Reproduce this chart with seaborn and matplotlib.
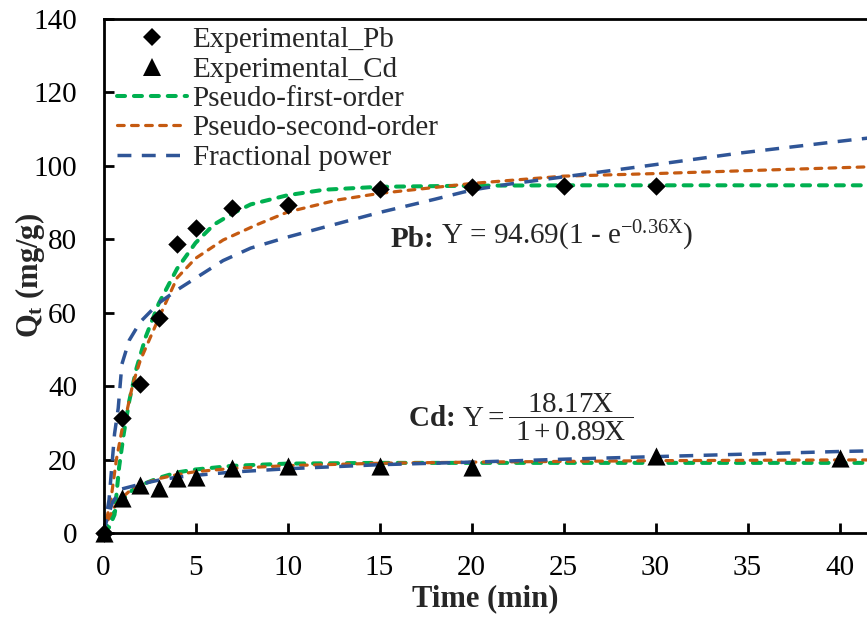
import matplotlib
matplotlib.use("Agg")
import matplotlib.pyplot as plt
from matplotlib.lines import Line2D
import seaborn as sns
import pandas as pd

# ---------------- data ----------------
pb_t = [0, 1, 2, 3, 4, 5, 7, 10, 15, 20, 25, 30]
pb_q = [0, 31.3, 40.7, 58.5, 78.7, 83.0, 88.5, 89.4, 93.6, 94.2, 94.4, 94.5]

cd_t = [0, 1, 2, 3, 4, 5, 7, 10, 15, 20, 30, 40]
cd_q = [0, 9.5, 13.0, 12.3, 15.0, 15.3, 17.8, 18.2, 18.2, 18.0, 21.0, 20.3]

# model curves, Pb
pfo_pb_t = [0, 0.3, 0.6, 0.85, 1.1, 1.4, 1.8, 2.3, 3, 4, 5, 6, 7, 8, 10, 12, 15, 20, 25, 30, 42]
pfo_pb_q = [0, 1.5, 5, 18, 27, 36, 45, 53.5, 62.5, 72, 79, 84, 87, 89.5, 92, 93.5, 94.3, 94.6, 94.7, 94.7, 94.7]
pso_pb_t = [0, 0.4, 0.7, 1, 1.2, 1.6, 2, 3, 4, 5, 6.5, 8.3, 10, 12.7, 15, 20, 25, 30, 35, 42]
pso_pb_q = [0, 9, 20, 28, 31.5, 40.7, 47, 58.5, 69.5, 74.8, 79.8, 83.9, 87.4, 90.7, 92.5, 95.2, 97.2, 97.9, 98.7, 99.8]
fp_pb_t = [0, 0.3, 0.45, 0.6, 0.8, 1, 1.4, 2, 3, 4, 5, 6.5, 8, 10, 12, 15, 18, 20, 22, 25, 29.2, 34.6, 40.7, 42]
fp_pb_q = [0, 9, 18, 27, 34, 46, 52.5, 57.5, 62.6, 66.2, 69.4, 74.2, 77.6, 80.6, 83.3, 87.3, 90.9, 93.4, 95.0, 97.0, 99.8, 103.5, 107.1, 107.8]

# model curves, Cd
pfo_cd_t = [0, 0.5, 1, 1.5, 2, 3, 4, 5, 7, 10, 15, 20, 42]
pfo_cd_q = [0, 5, 8.8, 11.4, 13, 15, 16.5, 17.3, 18.3, 18.9, 19.1, 19.1, 19.1]
pso_cd_t = [0, 0.3, 0.6, 1, 1.5, 2, 3, 4, 5, 7, 10, 15, 20, 25, 30, 35, 40, 42]
pso_cd_q = [0, 4.3, 7.1, 9.6, 11.8, 13.1, 14.8, 15.9, 16.7, 17.6, 18.35, 19.0, 19.3, 19.5, 19.7, 19.8, 19.9, 19.9]
fp_cd_t = [0, 0.2, 0.5, 1, 2, 3, 4, 5, 7, 10, 15, 20, 25, 30, 35, 40, 42]
fp_cd_q = [0, 4, 8.5, 12, 13.3, 14.4, 15.2, 15.7, 16.6, 17.5, 18.6, 19.3, 20.1, 20.8, 21.5, 22.2, 22.4]

x_ticks = [0, 5, 10, 15, 20, 25, 30, 35, 40]
y_ticks = [0, 20, 40, 60, 80, 100, 120, 140]
legend_labels = ["Experimental_Pb", "Experimental_Cd", "Pseudo-first-order",
                 "Pseudo-second-order", "Fractional power"]

# ---------------- style ----------------
sns.set_theme(style="ticks")
plt.rcParams["font.family"] = ["Liberation Serif", "DejaVu Serif"]
plt.rcParams["mathtext.fontset"] = "custom"
plt.rcParams["mathtext.rm"] = "Liberation Serif"
plt.rcParams["mathtext.it"] = "Liberation Serif:italic"
plt.rcParams["mathtext.bf"] = "Liberation Serif:bold"
plt.rcParams["mathtext.default"] = "regular"

GREEN = "#00B050"
ORANGE = "#C55A11"
BLUE = "#2F5597"
FS = 21

W, H = 867, 617
fig = plt.figure(figsize=(W / 100, H / 100), dpi=100)
ax = fig.add_axes([103.5 / W, (H - 533) / H, 1 - 103.5 / W, (533 - 19) / H])

green_ls = (0, (2.0, 2.2))
orange_ls = (0, (2.1, 2.3))
blue_ls = (0, (4, 3))

curves = [
    (pfo_pb_t, pfo_pb_q, GREEN, 2.9, green_ls, "round"),
    (pfo_cd_t, pfo_cd_q, GREEN, 2.9, green_ls, "round"),
    (pso_pb_t, pso_pb_q, ORANGE, 2.3, orange_ls, "round"),
    (pso_cd_t, pso_cd_q, ORANGE, 2.3, orange_ls, "round"),
    (fp_pb_t, fp_pb_q, BLUE, 2.5, blue_ls, "butt"),
    (fp_cd_t, fp_cd_q, BLUE, 2.5, blue_ls, "butt"),
]
for t, q, c, lw, ls, cap in curves:
    df = pd.DataFrame({"t": t, "q": q})
    sns.lineplot(data=df, x="t", y="q", ax=ax, color=c, linewidth=lw,
                 sort=False, estimator=None, legend=False)
    ln = ax.lines[-1]
    ln.set_linestyle(ls)
    ln.set_dash_capstyle(cap)

sns.scatterplot(x=pb_t, y=pb_q, ax=ax, marker="D", s=88, color="black",
                linewidth=0, zorder=5, clip_on=False, legend=False)
sns.scatterplot(x=cd_t, y=cd_q, ax=ax, marker="^", s=170, color="black",
                linewidth=0, zorder=5, clip_on=False, legend=False)

ax.set_xlim(0, (867 - 103.5) / 18.4)
ax.set_ylim(0, 140)
ax.set_xticks(x_ticks)
ax.set_yticks(y_ticks)
ax.tick_params(axis="both", direction="in", length=7, width=2, labelsize=FS,
               colors="black")
ax.tick_params(axis="x", pad=16)
ax.tick_params(axis="y", pad=19)
for side in ["left", "bottom", "top"]:
    ax.spines[side].set_linewidth(2)
    ax.spines[side].set_color("black")
ax.spines["right"].set_visible(False)

ax.set_xlabel("Time (min)", fontsize=22, fontweight="bold", labelpad=2)
ax.set_ylabel(r"$\mathbf{Q_t}$ (mg/g)", fontsize=22, fontweight="bold")
ax.yaxis.set_label_coords((47 - 103.5) / (867 - 103.5), 0.5)

# equations
t_pb = ax.text(15.6, 77.9, "Pb:", fontsize=FS, fontweight="bold",
               ha="left", va="baseline")
ax.annotate(r"Y = 94.69(1 - $\mathrm{e}^{-0.36X}$)", xy=(1, 0), xycoords=t_pb,
            xytext=(5, 0), textcoords="offset points", fontsize=FS,
            ha="left", va="bottom")
ax.text(16.55, 31.6, r"Cd: $\mathrm{Y = \dfrac{\ 18.17X\ }{\ 1 + 0.89X\ }}$",
        fontsize=FS, fontweight="bold", ha="left", va="center")

# legend
handles = [
    Line2D([], [], marker="D", color="black", linestyle="none", markersize=9, markeredgewidth=0),
    Line2D([], [], marker="^", color="black", linestyle="none", markersize=13, markeredgewidth=0),
    Line2D([], [], color=GREEN, linewidth=2.9, linestyle=green_ls, dash_capstyle="round"),
    Line2D([], [], color=ORANGE, linewidth=2.3, linestyle=orange_ls, dash_capstyle="round"),
    Line2D([], [], color=BLUE, linewidth=2.5, linestyle=blue_ls),
]
fig.legend(handles, legend_labels, loc="upper left",
           bbox_to_anchor=(116.7 / W, 1 - 27 / H), frameon=False, fontsize=FS,
           handlelength=2.4, handletextpad=0.2, labelspacing=0.1,
           borderpad=0, borderaxespad=0)

fig.savefig("out.png", dpi=100)
